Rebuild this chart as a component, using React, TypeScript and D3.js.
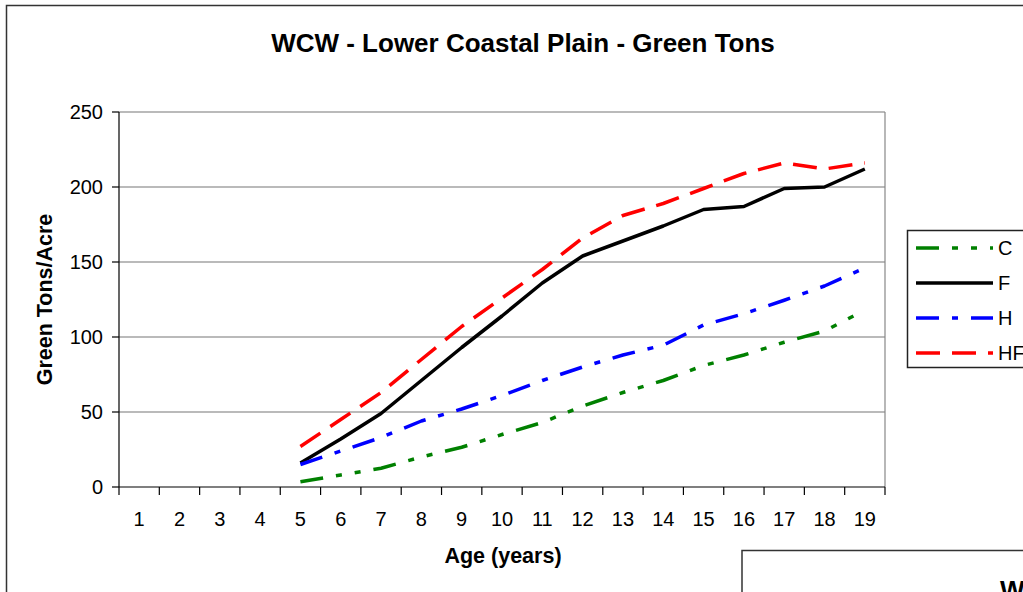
import * as d3 from "d3";

const ages = d3.range(1, 20);
const dataAges = [5, 6, 7, 8, 9, 10, 11, 12, 13, 14, 15, 16, 17, 18, 19];
const C = [3.5, 8, 12.5, 20, 26.5, 35, 43, 54, 63, 71, 81, 88, 96.5, 104, 118];
const F = [16, 32, 49, 71, 93, 114, 136, 154, 164, 174, 185, 187, 199, 200, 212];
const H = [15, 24, 33, 44, 52, 61, 71, 80, 88, 94.5, 108, 115.5, 124.5, 134, 146];
const HF = [27, 45, 63, 85, 107, 126, 145, 166, 181, 189, 199, 209, 216, 212, 216];
const yTicks = [0, 50, 100, 150, 200, 250];

const series = [
  { name: "C", values: C, color: "#008000", dash: "23,13,6,13,6,13", width: 3.5 },
  { name: "F", values: F, color: "#000000", dash: "none", width: 3.5 },
  { name: "H", values: H, color: "#0000ff", dash: "23,13,6,13", width: 3.5 },
  { name: "HF", values: HF, color: "#ff0000", dash: "24,12", width: 3.5 },
];

export default function App() {
  const width = 1023;
  const height = 592;
  const left = 119;
  const right = 885;
  const top = 112;
  const bottom = 487;
  const font = "'Liberation Sans', Arial, sans-serif";

  const x = d3.scaleBand<number>(ages, [left, right]);
  const y = d3.scaleLinear([0, 250], [bottom, top]);
  const cx = (a: number) => (x(a) ?? 0) + x.bandwidth() / 2;
  const line = d3
    .line<number>()
    .x((_, i) => cx(dataAges[i]))
    .y((d) => y(d));

  const legendY = [248, 283, 318, 353];

  return (
    <svg
      width={width}
      height={height}
      style={{ position: "absolute", left: 0, top: 0, background: "#fff" }}
      fontFamily={font}
    >
      <rect x={0} y={0} width={width} height={height} fill="#fff" />
      {/* outer chart frame */}
      <path d={`M6.5,${height + 5}V5.5H${width + 5}`} fill="none" stroke="#333" strokeWidth={1.5} />

      <text x={523} y={52} textAnchor="middle" fontSize={26} fontWeight="bold">
        WCW - Lower Coastal Plain - Green Tons
      </text>

      {/* gridlines */}
      {yTicks.slice(1).map((t) => (
        <line key={t} x1={left} x2={right} y1={y(t)} y2={y(t)} stroke="#777" strokeWidth={1.2} />
      ))}
      <line x1={right} x2={right} y1={top} y2={bottom} stroke="#888" strokeWidth={1.2} />

      {/* axes */}
      <line x1={left} x2={left} y1={top} y2={bottom} stroke="#000" strokeWidth={1.2} />
      <line x1={left} x2={right} y1={bottom} y2={bottom} stroke="#000" strokeWidth={1.2} />
      {yTicks.map((t) => (
        <g key={t}>
          <line x1={left - 7} x2={left} y1={y(t)} y2={y(t)} stroke="#000" strokeWidth={1.2} />
          <text x={103} y={y(t)} dy="0.36em" textAnchor="end" fontSize={20}>
            {t}
          </text>
        </g>
      ))}
      {d3.range(0, ages.length + 1).map((k) => (
        <line
          key={k}
          x1={left + k * x.step()}
          x2={left + k * x.step()}
          y1={bottom}
          y2={bottom + 8}
          stroke="#000"
          strokeWidth={1.2}
        />
      ))}
      {ages.map((a) => (
        <text key={a} x={cx(a)} y={526} textAnchor="middle" fontSize={20}>
          {a}
        </text>
      ))}

      <text x={503} y={563} textAnchor="middle" fontSize={21.5} fontWeight="bold">
        Age (years)
      </text>
      <text
        transform={`translate(52,${(top + bottom) / 2}) rotate(-90)`}
        textAnchor="middle"
        fontSize={21.5}
        fontWeight="bold"
      >
        Green Tons/Acre
      </text>

      {/* series */}
      {series.map((s) => (
        <path
          key={s.name}
          d={line(s.values) ?? ""}
          fill="none"
          stroke={s.color}
          strokeWidth={s.width}
          strokeDasharray={s.dash}
          strokeLinejoin="round"
        />
      ))}

      {/* legend */}
      <rect x={907.5} y={230.5} width={200} height={137} fill="#fff" stroke="#222" strokeWidth={1.5} />
      {series.map((s, i) => (
        <g key={s.name}>
          <line
            x1={916}
            x2={993}
            y1={legendY[i]}
            y2={legendY[i]}
            stroke={s.color}
            strokeWidth={s.width}
            strokeDasharray={s.dash}
          />
          <text x={998} y={legendY[i]} dy="0.36em" fontSize={20}>
            {s.name}
          </text>
        </g>
      ))}

      {/* neighbouring chart, cut off */}
      <rect x={742} y={550.5} width={400} height={200} fill="#fff" stroke="#333" strokeWidth={1.5} />
      <text x={1000} y={599} fontSize={26} fontWeight="bold">
        WCW - Lower Coastal Plain
      </text>
    </svg>
  );
}
